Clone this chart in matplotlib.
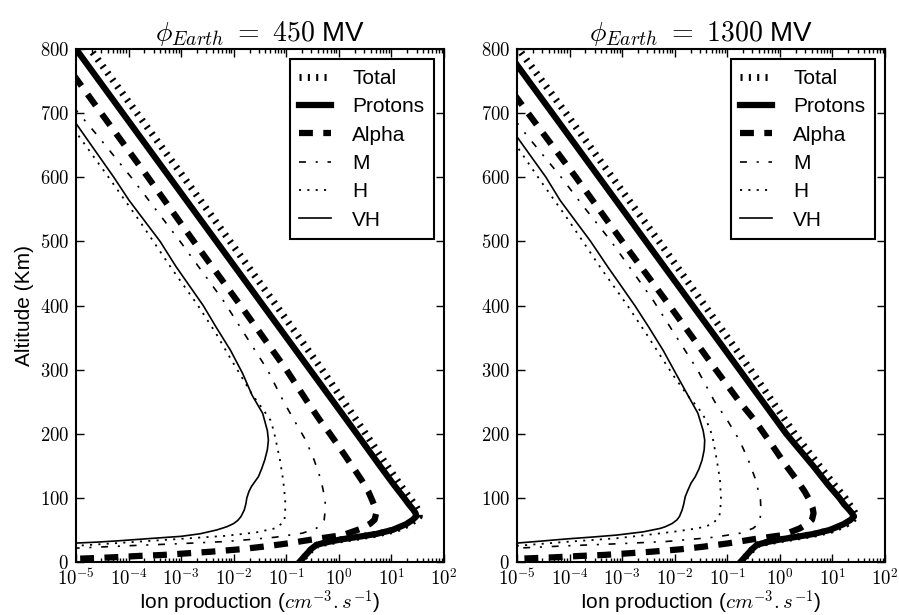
import numpy as np
import matplotlib
matplotlib.use('Agg')
import matplotlib.pyplot as plt
from matplotlib.ticker import FuncFormatter, LogLocator, MultipleLocator

# log10 of ion production (cm^-3 s^-1) against altitude (km), one list per species

# ---- phi_Earth = 450 MV ----
total_450_alt = [805, 800, 700, 600, 500, 400, 300, 200, 150, 120, 100, 90, 82, 76, 71, 65.5, 59, 50, 43.7, 39.5, 35.3, 31.7, 29, 26.5, 20, 10, 0]
total_450_q = [-4.78, -4.73, -3.84, -2.95, -2.07, -1.19, -0.32, 0.51, 0.92, 1.17, 1.35, 1.44, 1.50, 1.53, 1.53, 1.45, 1.33, 1.06, 0.74, 0.42, 0.08, -0.16, -0.30, -0.41, -0.52, -0.63, -0.74]

protons_450_alt = [805, 800, 700, 600, 500, 400, 300, 200, 150, 120, 100, 90, 82, 76, 71, 65.5, 59, 50, 43.7, 39.5, 35.3, 31.7, 29, 26.5, 20, 10, 0]
protons_450_q = [-5.04, -5.00, -4.11, -3.22, -2.33, -1.44, -0.55, 0.34, 0.78, 1.05, 1.24, 1.33, 1.41, 1.46, 1.47, 1.40, 1.28, 1.02, 0.71, 0.39, 0.05, -0.18, -0.32, -0.43, -0.53, -0.64, -0.75]

alpha_450_alt = [760, 700, 600, 500, 400, 300, 250, 221, 200, 180, 150, 128, 110, 97, 85, 76, 66, 60, 52.5, 42, 35.3, 29.1, 23.9, 19.8, 16.1, 13.5, 11, 9.4, 7.3, 5.7, 5]
alpha_450_q = [-5.05, -4.52, -3.63, -2.76, -1.87, -1.00, -0.60, -0.36, -0.17, 0.00, 0.25, 0.43, 0.56, 0.63, 0.69, 0.71, 0.68, 0.60, 0.44, 0.08, -0.49, -0.96, -1.44, -1.88, -2.42, -2.89, -3.34, -3.81, -4.29, -4.77, -5.00]

m_450_alt = [710, 700, 666, 600, 556, 500, 408, 350, 300, 250, 221, 190, 159, 128, 97, 80, 65.5, 58, 52.5, 45, 38.7, 35, 31.9, 28.3, 25.2, 21.6]
m_450_q = [-5.05, -4.95, -4.60, -3.95, -3.54, -3.02, -2.20, -1.75, -1.36, -1.05, -0.85, -0.63, -0.47, -0.34, -0.26, -0.26, -0.28, -0.34, -0.43, -0.69, -1.20, -1.70, -2.15, -3.10, -4.05, -5.00]

h_450_alt = [675, 668, 600, 533, 460, 400, 357, 320, 290, 260, 240, 221, 205, 190, 159, 128, 97, 76, 63, 52.7, 46, 40.8, 35.6, 30.4, 25.2]
h_450_q = [-5.05, -4.98, -4.38, -3.80, -3.20, -2.68, -2.34, -2.08, -1.86, -1.64, -1.46, -1.30, -1.24, -1.20, -1.12, -1.06, -1.02, -1.02, -1.04, -1.20, -1.58, -2.15, -3.10, -4.05, -5.00]

vh_450_alt = [690, 684, 600, 564, 500, 461, 400, 367, 330, 294, 260, 232, 205, 190, 175, 159, 145, 133, 125, 118, 110, 100, 90, 81, 71, 65, 60, 55, 50, 44, 40, 36.6, 33, 31, 29.5]
vh_450_q = [-5.05, -5.00, -4.28, -3.99, -3.40, -3.10, -2.58, -2.34, -2.06, -1.83, -1.65, -1.45, -1.36, -1.34, -1.36, -1.41, -1.47, -1.53, -1.60, -1.66, -1.71, -1.75, -1.77, -1.80, -1.86, -1.92, -2.00, -2.13, -2.32, -2.64, -3.00, -3.59, -4.20, -4.60, -5.00]

# ---- phi_Earth = 1300 MV ----
total_1300_alt = [805, 800, 700, 600, 500, 400, 300, 200, 150, 120, 100, 90, 82, 76, 71, 65.5, 59, 50, 43.7, 39.5, 35.3, 31.7, 29, 26.5, 20, 10, 0]
total_1300_q = [-5.01, -4.97, -4.07, -3.19, -2.30, -1.43, -0.56, 0.28, 0.75, 1.04, 1.24, 1.32, 1.39, 1.43, 1.45, 1.38, 1.26, 0.99, 0.67, 0.37, 0.05, -0.19, -0.33, -0.43, -0.52, -0.63, -0.74]

protons_1300_alt = [780, 775, 700, 600, 500, 400, 300, 200, 150, 120, 100, 90, 82, 76, 71, 65.5, 59, 50, 43.7, 39.5, 35.3, 31.7, 29, 26.5, 20, 10, 0]
protons_1300_q = [-5.04, -5.00, -4.33, -3.44, -2.55, -1.66, -0.77, 0.12, 0.63, 0.92, 1.13, 1.22, 1.31, 1.37, 1.41, 1.34, 1.21, 0.95, 0.64, 0.34, 0.02, -0.21, -0.34, -0.44, -0.53, -0.64, -0.75]

alpha_1300_alt = [730, 700, 600, 500, 400, 300, 250, 221, 200, 180, 150, 128, 110, 97, 85, 76, 66, 60, 52.5, 42, 35.3, 29.1, 23.9, 19.8, 16.1, 13.5, 11, 9.4, 7.3, 5.7, 5]
alpha_1300_q = [-5.06, -4.79, -3.88, -3.00, -2.10, -1.22, -0.77, -0.48, -0.30, -0.13, 0.12, 0.32, 0.47, 0.56, 0.62, 0.64, 0.61, 0.53, 0.38, 0.06, -0.52, -0.98, -1.45, -1.89, -2.43, -2.89, -3.34, -3.81, -4.29, -4.77, -5.00]

m_1300_alt = [690, 685, 666, 600, 556, 500, 408, 350, 300, 250, 221, 190, 159, 128, 97, 80, 65.5, 58, 52.5, 45, 38.7, 35, 31.9, 28.3, 25.2, 21.6]
m_1300_q = [-5.06, -5.00, -4.82, -4.16, -3.75, -3.21, -2.41, -1.96, -1.57, -1.24, -1.00, -0.77, -0.60, -0.46, -0.37, -0.36, -0.38, -0.43, -0.51, -0.75, -1.24, -1.73, -2.17, -3.12, -4.06, -5.00]

h_1300_alt = [655, 648, 600, 533, 460, 400, 357, 320, 290, 260, 240, 221, 205, 190, 159, 128, 97, 76, 71, 63, 58, 52.7, 47.8, 42, 37, 31.5, 25.2]
h_1300_q = [-5.06, -5.00, -4.60, -4.02, -3.42, -2.90, -2.55, -2.26, -2.02, -1.76, -1.55, -1.40, -1.32, -1.27, -1.20, -1.14, -1.12, -1.14, -1.16, -1.24, -1.32, -1.55, -1.96, -2.55, -3.10, -4.05, -5.00]

vh_1300_alt = [670, 663, 600, 564, 500, 461, 400, 367, 330, 294, 260, 232, 205, 190, 175, 159, 145, 133, 123, 112, 102, 90, 81, 71, 65.5, 60, 55, 52.5, 47, 42, 39, 36, 32.5, 29.5]
vh_1300_q = [-5.06, -5.00, -4.45, -4.18, -3.60, -3.28, -2.76, -2.50, -2.22, -1.98, -1.75, -1.56, -1.46, -1.43, -1.44, -1.48, -1.54, -1.61, -1.69, -1.75, -1.80, -1.83, -1.86, -1.91, -1.96, -2.05, -2.18, -2.27, -2.60, -3.10, -3.55, -4.05, -4.55, -5.00]

labels = ['Total', 'Protons', 'Alpha', 'M', 'H', 'VH']
titles = [r'$\phi_{Earth}\ =\ 450$ MV', r'$\phi_{Earth}\ =\ 1300$ MV']

plt.rcParams['font.family'] = ['Liberation Sans', 'DejaVu Sans']
plt.rcParams['mathtext.fontset'] = 'cm'
plt.rcParams['lines.scale_dashes'] = False

# line width and dash pattern per species
styles = [
    dict(lw=5.0, ls=(0, (1.5, 4.5))),
    dict(lw=4.5, ls='-'),
    dict(lw=4.5, ls=(0, (10, 7.5))),
    dict(lw=1.2, ls=(0, (5, 7, 1.5, 7))),
    dict(lw=1.3, ls=(0, (1.5, 4.5))),
    dict(lw=1.2, ls='-'),
]

panels = [
    [(total_450_alt, total_450_q), (protons_450_alt, protons_450_q), (alpha_450_alt, alpha_450_q),
     (m_450_alt, m_450_q), (h_450_alt, h_450_q), (vh_450_alt, vh_450_q)],
    [(total_1300_alt, total_1300_q), (protons_1300_alt, protons_1300_q), (alpha_1300_alt, alpha_1300_q),
     (m_1300_alt, m_1300_q), (h_1300_alt, h_1300_q), (vh_1300_alt, vh_1300_q)],
]

fig = plt.figure(figsize=(8.99, 6.15), dpi=100)
ax1 = fig.add_axes([0.0845, 0.0862, 0.4094, 0.8341])
ax2 = fig.add_axes([0.5751, 0.0862, 0.4094, 0.8341])

for ax, series, title in zip([ax1, ax2], panels, titles):
    for (alt, q), st, lab in zip(series, styles, labels):
        ax.plot(10 ** np.array(q), alt, color='k', lw=st['lw'], ls=st['ls'], label=lab)

    ax.set_xscale('log')
    ax.set_xlim(1e-5, 1e2)
    ax.set_ylim(0, 800)
    ax.yaxis.set_major_locator(MultipleLocator(100))
    ax.xaxis.set_major_locator(LogLocator(base=10, numticks=20))
    ax.xaxis.set_minor_locator(LogLocator(base=10, subs=np.arange(2, 10), numticks=20))
    ax.xaxis.set_major_formatter(FuncFormatter(lambda v, p: r'$10^{%d}$' % round(np.log10(v))))
    ax.yaxis.set_major_formatter(FuncFormatter(lambda v, p: r'$%d$' % v))
    ax.tick_params(which='both', direction='in', top=True, right=True, labelsize=13.5)
    ax.tick_params(axis='y', pad=5)
    ax.tick_params(axis='x', pad=4)
    ax.tick_params(which='major', length=5.5, width=1)
    ax.tick_params(which='minor', length=3, width=1)
    for sp in ax.spines.values():
        sp.set_linewidth(1.5)

    ax.set_title(title, fontsize=20, pad=6)
    ax.set_xlabel(r'Ion production ($cm^{-3}.s^{-1}$)', fontsize=15, labelpad=0)

    leg = ax.legend(loc='upper right', fontsize=15, fancybox=False, framealpha=1,
                    handlelength=1.55, handletextpad=1.0, labelspacing=0.45,
                    borderpad=0.45, borderaxespad=0.5)
    leg.get_frame().set_edgecolor('k')
    leg.get_frame().set_linewidth(1.5)

ax1.set_ylabel('Altitude (Km)', fontsize=15)

fig.savefig('out.png', dpi=100)
